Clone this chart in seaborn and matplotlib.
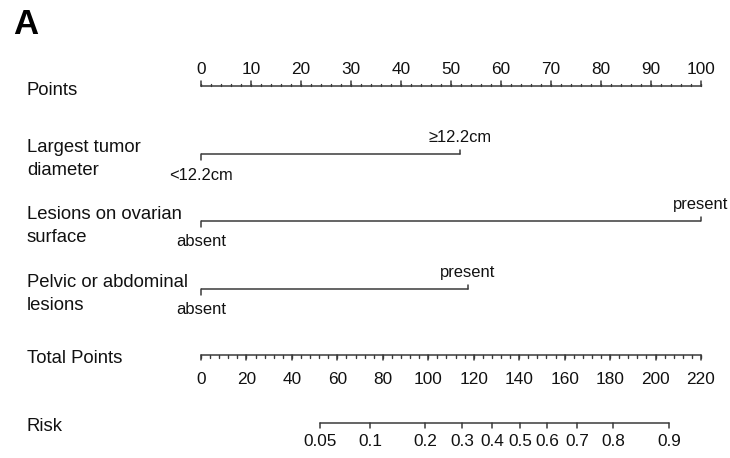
import numpy as np
import pandas as pd
import matplotlib
matplotlib.use("Agg")
import matplotlib.pyplot as plt
import seaborn as sns
from matplotlib.transforms import blended_transform_factory

# ---------------- data ----------------
points_ticks = list(range(0, 101, 10))
points_minor = list(range(0, 101, 2))
total_ticks = list(range(0, 221, 20))
total_minor = list(range(0, 221, 4))
total_max = 220
risk_labels = ["0.05", "0.1", "0.2", "0.3", "0.4", "0.5", "0.6", "0.7", "0.8", "0.9"]
risk_total_points = [52.4, 74.4, 98.6, 114.8, 128.0, 140.4, 152.2, 165.4, 181.3, 205.9]

variables = ["Largest tumor\ndiameter", "Lesions on ovarian\nsurface", "Pelvic or abdominal\nlesions"]
low_levels = ["<12.2cm", "absent", "absent"]
high_levels = ["\u226512.2cm", "present", "present"]
low_points = [0, 0, 0]
high_points = [51.8, 100, 53.4]

# ---------------- style ----------------
sns.set_theme(style="white")
plt.rcParams["font.family"] = ["Liberation Sans", "DejaVu Sans"]

W, H = 730, 458
fig = plt.figure(figsize=(W / 100, H / 100), dpi=100)
ax = fig.add_axes([201 / W, 0, 500 / W, 1])
ax.set_xlim(0, 100)
ax.set_ylim(H, 0)
ax.axis("off")

lc = "#3a3a3a"
tc = "#111111"
lw = 1.1
lab_fs = 13.3
tick_fs = 12.4
lev_fs = 11.9

trans_lab = blended_transform_factory(fig.transFigure, ax.transData)
lab_x = 27 / W

# row positions (pixel y)
y_points = 86
y_vars = [154, 221, 289]
y_total = 355
y_risk = 423

# Panel letter
fig.text(13 / W, 1 - 24 / H, "A", fontsize=25, fontweight="bold", color="black",
         va="center", ha="left")

# ---- Points axis ----
ax.text(lab_x, 95, "Points", transform=trans_lab, fontsize=lab_fs, color=tc,
        va="baseline", ha="left")
ax.plot([points_ticks[0], points_ticks[-1]], [y_points, y_points], color=lc, lw=lw, clip_on=False)
for v in points_minor:
    ax.plot([v, v], [y_points, y_points - 2.5], color=lc, lw=lw * 0.9, clip_on=False)
for v in points_ticks:
    ax.plot([v, v], [y_points, y_points - 5], color=lc, lw=lw, clip_on=False)
    ax.text(v, 70, str(v), fontsize=tick_fs, color=tc, ha="center", va="center", clip_on=False)

# ---- Categorical variables ----
seg = pd.DataFrame({
    "var": np.repeat(variables, 2),
    "pts": np.ravel(np.column_stack([low_points, high_points])),
    "y": np.repeat(y_vars, 2),
})
sns.lineplot(data=seg, x="pts", y="y", units="var", estimator=None, color=lc,
             lw=lw, ax=ax, legend=False, sort=False)
for i, var in enumerate(variables):
    y = y_vars[i]
    for j, line in enumerate(var.split("\n")):
        ax.text(lab_x, y - 2 + 23 * j, line, transform=trans_lab, fontsize=lab_fs,
                color=tc, va="baseline", ha="left")
    ax.plot([low_points[i]] * 2, [y, y + 6], color=lc, lw=lw, clip_on=False)
    ax.plot([high_points[i]] * 2, [y, y - 4], color=lc, lw=lw, clip_on=False)
    ax.text(low_points[i], y + 21, low_levels[i], fontsize=lev_fs, color=tc,
            ha="center", va="center", clip_on=False)
    ax.text(high_points[i], y - 17, high_levels[i], fontsize=lev_fs, color=tc,
            ha="center", va="center", clip_on=False)

# ---- Total points axis ----
scale = 100 / total_max
ax.text(lab_x, 363, "Total Points", transform=trans_lab, fontsize=lab_fs, color=tc,
        va="baseline", ha="left")
ax.plot([0, total_ticks[-1] * scale], [y_total, y_total], color=lc, lw=lw, clip_on=False)
for v in total_minor:
    ax.plot([v * scale] * 2, [y_total, y_total + 3], color=lc, lw=lw * 0.9, clip_on=False)
for v in total_ticks:
    ax.plot([v * scale] * 2, [y_total, y_total + 5], color=lc, lw=lw, clip_on=False)
    ax.text(v * scale, 379, str(v), fontsize=tick_fs, color=tc, ha="center", va="center",
            clip_on=False)

# ---- Risk axis ----
ax.text(lab_x, 431, "Risk", transform=trans_lab, fontsize=lab_fs, color=tc,
        va="baseline", ha="left")
rx = [p * scale for p in risk_total_points]
ax.plot([rx[0], rx[-1]], [y_risk, y_risk], color=lc, lw=lw, clip_on=False)
for x, lab in zip(rx, risk_labels):
    ax.plot([x, x], [y_risk, y_risk + 5], color=lc, lw=lw, clip_on=False)
    ax.text(x, 441, lab, fontsize=tick_fs, color=tc, ha="center", va="center", clip_on=False)

fig.savefig("out.png", dpi=100, facecolor="white")
